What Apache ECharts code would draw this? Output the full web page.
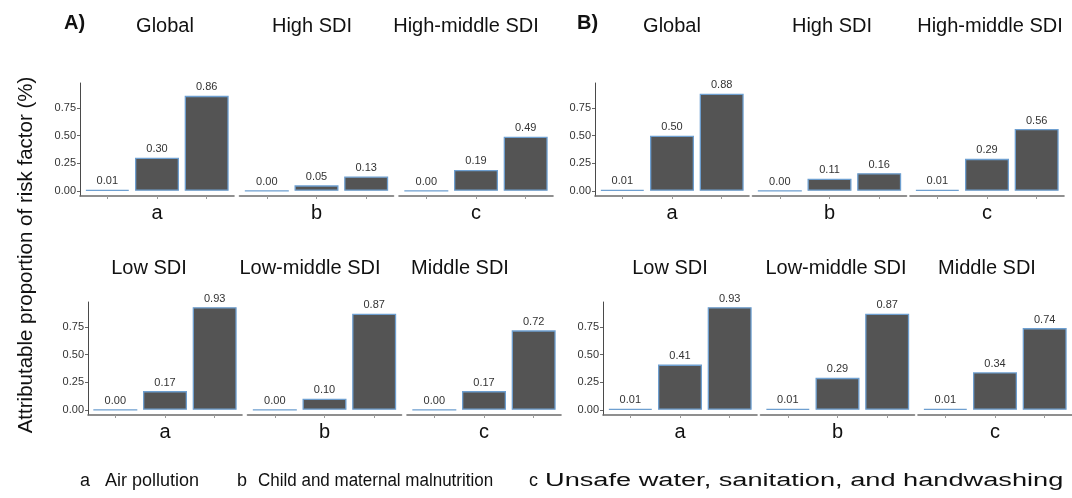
<!DOCTYPE html>
<html><head><meta charset="utf-8">
<script src="https://cdn.jsdelivr.net/npm/echarts@6/dist/echarts.min.js"></script>
<style>html,body{margin:0;padding:0;background:#fff}#c{width:1072px;height:498px}</style>
</head><body><div id="c"></div>
<script>
// ---------- data ----------
const panelLabels = ['A)', 'B)'];
const facetTitlesTop = ['Global', 'High SDI', 'High-middle SDI'];
const facetTitlesBottom = ['Low SDI', 'Low-middle SDI', 'Middle SDI'];
const facetLetters = ['a', 'b', 'c'];
const barPositions = [1, 2, 3];
const yTicks = [0, 0.25, 0.5, 0.75];

// Panel A
const A_Global = [0.01, 0.30, 0.86];
const A_HighSDI = [0.00, 0.05, 0.13];
const A_HighMiddleSDI = [0.00, 0.19, 0.49];
const A_LowSDI = [0.00, 0.17, 0.93];
const A_LowMiddleSDI = [0.00, 0.10, 0.87];
const A_MiddleSDI = [0.00, 0.17, 0.72];
// Panel B
const B_Global = [0.01, 0.50, 0.88];
const B_HighSDI = [0.00, 0.11, 0.16];
const B_HighMiddleSDI = [0.01, 0.29, 0.56];
const B_LowSDI = [0.01, 0.41, 0.93];
const B_LowMiddleSDI = [0.01, 0.29, 0.87];
const B_MiddleSDI = [0.01, 0.34, 0.74];

const legendKeys = ['a', 'b', 'c'];
const legendLabels = ['Air pollution', 'Child and maternal malnutrition', 'Unsafe water, sanitation, and handwashing'];
const yAxisTitle = 'Attributable proportion of risk factor (%)';

// ---------- layout ----------
const FONT = '"Liberation Sans", Arial, sans-serif';
const panelData = [
  [[A_Global, A_HighSDI, A_HighMiddleSDI], [A_LowSDI, A_LowMiddleSDI, A_MiddleSDI]],
  [[B_Global, B_HighSDI, B_HighMiddleSDI], [B_LowSDI, B_LowMiddleSDI, B_MiddleSDI]]
];
const layout = [
  { rows: [{ left: 80, top: 83 }, { left: 88, top: 302 }], pitch: 159.5, label: [64, 23],
    titles: [[165, 312, 466], [149, 310, 460]] },
  { rows: [{ left: 595, top: 83 }, { left: 603, top: 302 }], pitch: 157.5, label: [577, 23],
    titles: [[672, 832, 990], [670, 836, 987]] }
];
const FW = 154, FH = 113;
const titleY = [26, 268];

const grids = [], xAxes = [], yAxes = [], series = [], graphics = [];
let g = 0;
panelData.forEach((panel, p) => {
  panel.forEach((row, r) => {
    row.forEach((vals, f) => {
      const L = layout[p].rows[r];
      grids.push({ left: L.left + f * layout[p].pitch, top: L.top, width: FW, height: FH });
      xAxes.push({
        gridIndex: g, type: 'value', min: 0.45, max: 3.55,
        axisLine: { show: true, onZero: false, lineStyle: { color: '#6b6b6b', width: 1.6 } },
        axisTick: { show: true, customValues: barPositions, length: 3, lineStyle: { color: '#9a9a9a' } },
        axisLabel: { show: false }, splitLine: { show: false },
        name: facetLetters[f], nameLocation: 'middle', nameGap: 7,
        nameTextStyle: { fontSize: 20, color: '#111', fontFamily: FONT }
      });
      const first = f === 0;
      yAxes.push({
        gridIndex: g, type: 'value', min: -0.0465, max: 0.9765,
        axisLine: { show: first, lineStyle: { color: '#4a4a4a', width: 1 } },
        axisTick: { show: first, customValues: yTicks, length: 3, lineStyle: { color: '#666' } },
        axisLabel: { show: first, customValues: yTicks, formatter: v => v.toFixed(2),
          fontSize: 11, color: '#333', margin: 4, fontFamily: FONT },
        splitLine: { show: false }
      });
      series.push({
        type: 'bar', xAxisIndex: g, yAxisIndex: g,
        data: vals.map((v, i) => [barPositions[i], v]),
        barWidth: 44,
        itemStyle: { color: '#545454', borderColor: '#6e9fd0', borderWidth: 1.3 },
        label: { show: true, position: 'top', distance: 3, fontSize: 11, color: '#333', fontFamily: FONT,
          formatter: pr => pr.value[1].toFixed(2) },
        silent: true
      });
      g++;
    });
    const titles = r === 0 ? facetTitlesTop : facetTitlesBottom;
    titles.forEach((t, f) => {
      graphics.push({ type: 'text', x: layout[p].titles[r][f], y: titleY[r],
        style: { text: t, font: '20px ' + FONT, fill: '#111', textAlign: 'center', textVerticalAlign: 'middle' } });
    });
  });
  graphics.push({ type: 'text', x: layout[p].label[0], y: layout[p].label[1],
    style: { text: panelLabels[p], font: 'bold 20px ' + FONT, fill: '#111', textAlign: 'left', textVerticalAlign: 'middle' } });
});

graphics.push({ type: 'text', x: 26, y: 255, rotation: Math.PI / 2,
  style: { text: yAxisTitle, font: '20.5px ' + FONT, fill: '#111', textAlign: 'center', textVerticalAlign: 'middle' } });

// legend key row (the reference key is drawn with uneven horizontal stretch)
const legendX = [[80, 105], [237, 258], [529, 545]];
const legendScaleX = [1.0, 0.944, 1.51];
legendKeys.forEach((k, i) => {
  graphics.push({ type: 'text', x: legendX[i][0], y: 481,
    style: { text: k, font: '18px ' + FONT, fill: '#111', textAlign: 'left', textVerticalAlign: 'middle' } });
  graphics.push({ type: 'text', x: legendX[i][1], y: 481, scaleX: legendScaleX[i],
    style: { text: legendLabels[i], font: '18px ' + FONT, fill: '#111', textAlign: 'left', textVerticalAlign: 'middle' } });
});

const chart = echarts.init(document.getElementById('c'), null, { renderer: 'canvas' });
chart.setOption({
  animation: false,
  backgroundColor: '#fff',
  grid: grids, xAxis: xAxes, yAxis: yAxes, series: series,
  graphic: graphics
});
</script>
</body></html>
